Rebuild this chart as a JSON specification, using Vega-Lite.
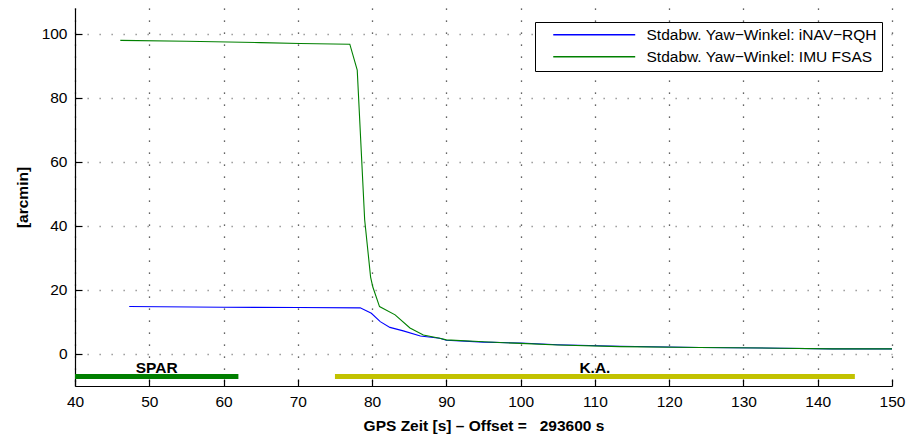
{
  "$schema": "https://vega.github.io/schema/vega-lite/v6.json",
  "width": 817,
  "height": 378,
  "autosize": {"type": "none"},
  "padding": {"left": 75, "top": 8, "right": 16, "bottom": 51},
  "background": "white",
  "config": {
    "font": "Liberation Sans",
    "view": {"stroke": null},
    "axis": {
      "domainColor": "black",
      "domainWidth": 1.2,
      "tickColor": "black",
      "tickSize": -7,
      "tickWidth": 1.2,
      "gridDash": [1.3, 10.7],
      "gridWidth": 1.3,
      "labelFont": "Liberation Sans",
      "labelFontSize": 15.5,
      "labelColor": "black",
      "titleFont": "Liberation Sans",
      "titleFontSize": 15.5,
      "titleFontWeight": "bold",
      "titleColor": "black"
    }
  },
  "datasets": {
    "lines": [
      {"series": "Stdabw. Yaw−Winkel: iNAV−RQH", "t": 47.3, "v": 14.8},
      {"series": "Stdabw. Yaw−Winkel: iNAV−RQH", "t": 60, "v": 14.6},
      {"series": "Stdabw. Yaw−Winkel: iNAV−RQH", "t": 70, "v": 14.5},
      {"series": "Stdabw. Yaw−Winkel: iNAV−RQH", "t": 78.4, "v": 14.4},
      {"series": "Stdabw. Yaw−Winkel: iNAV−RQH", "t": 79.9, "v": 12.7},
      {"series": "Stdabw. Yaw−Winkel: iNAV−RQH", "t": 81.1, "v": 10.1},
      {"series": "Stdabw. Yaw−Winkel: iNAV−RQH", "t": 82.4, "v": 8.3},
      {"series": "Stdabw. Yaw−Winkel: iNAV−RQH", "t": 84.2, "v": 7.2},
      {"series": "Stdabw. Yaw−Winkel: iNAV−RQH", "t": 86.5, "v": 5.6},
      {"series": "Stdabw. Yaw−Winkel: iNAV−RQH", "t": 89.1, "v": 4.9},
      {"series": "Stdabw. Yaw−Winkel: iNAV−RQH", "t": 90, "v": 4.3},
      {"series": "Stdabw. Yaw−Winkel: iNAV−RQH", "t": 95, "v": 3.7},
      {"series": "Stdabw. Yaw−Winkel: iNAV−RQH", "t": 100, "v": 3.4},
      {"series": "Stdabw. Yaw−Winkel: iNAV−RQH", "t": 105, "v": 2.9},
      {"series": "Stdabw. Yaw−Winkel: iNAV−RQH", "t": 113.4, "v": 2.4},
      {"series": "Stdabw. Yaw−Winkel: iNAV−RQH", "t": 124.1, "v": 2.0},
      {"series": "Stdabw. Yaw−Winkel: iNAV−RQH", "t": 135, "v": 1.8},
      {"series": "Stdabw. Yaw−Winkel: iNAV−RQH", "t": 142, "v": 1.6},
      {"series": "Stdabw. Yaw−Winkel: iNAV−RQH", "t": 150, "v": 1.6},
      {"series": "Stdabw. Yaw−Winkel: IMU FSAS", "t": 46.1, "v": 97.9},
      {"series": "Stdabw. Yaw−Winkel: IMU FSAS", "t": 55, "v": 97.6},
      {"series": "Stdabw. Yaw−Winkel: IMU FSAS", "t": 65, "v": 97.2},
      {"series": "Stdabw. Yaw−Winkel: IMU FSAS", "t": 70.3, "v": 96.9},
      {"series": "Stdabw. Yaw−Winkel: IMU FSAS", "t": 77.0, "v": 96.7},
      {"series": "Stdabw. Yaw−Winkel: IMU FSAS", "t": 78.0, "v": 88.6},
      {"series": "Stdabw. Yaw−Winkel: IMU FSAS", "t": 79.0, "v": 41.9},
      {"series": "Stdabw. Yaw−Winkel: IMU FSAS", "t": 79.8, "v": 24},
      {"series": "Stdabw. Yaw−Winkel: IMU FSAS", "t": 80.1, "v": 20.9},
      {"series": "Stdabw. Yaw−Winkel: IMU FSAS", "t": 81.0, "v": 14.8},
      {"series": "Stdabw. Yaw−Winkel: IMU FSAS", "t": 83.1, "v": 12.2},
      {"series": "Stdabw. Yaw−Winkel: IMU FSAS", "t": 85.1, "v": 8.1},
      {"series": "Stdabw. Yaw−Winkel: IMU FSAS", "t": 86.9, "v": 5.9},
      {"series": "Stdabw. Yaw−Winkel: IMU FSAS", "t": 89.1, "v": 4.9},
      {"series": "Stdabw. Yaw−Winkel: IMU FSAS", "t": 90, "v": 4.4},
      {"series": "Stdabw. Yaw−Winkel: IMU FSAS", "t": 95, "v": 3.8},
      {"series": "Stdabw. Yaw−Winkel: IMU FSAS", "t": 100, "v": 3.3},
      {"series": "Stdabw. Yaw−Winkel: IMU FSAS", "t": 105, "v": 2.8},
      {"series": "Stdabw. Yaw−Winkel: IMU FSAS", "t": 113.4, "v": 2.3},
      {"series": "Stdabw. Yaw−Winkel: IMU FSAS", "t": 124.1, "v": 2.0},
      {"series": "Stdabw. Yaw−Winkel: IMU FSAS", "t": 135, "v": 1.8},
      {"series": "Stdabw. Yaw−Winkel: IMU FSAS", "t": 142, "v": 1.6},
      {"series": "Stdabw. Yaw−Winkel: IMU FSAS", "t": 150, "v": 1.6}
    ],
    "phases": [
      {"phase": "SPAR", "start": 40, "end": 62, "mid": 51, "level": -7},
      {"phase": "K.A.", "start": 75, "end": 145, "mid": 110, "level": -7}
    ]
  },
  "layer": [
    {
      "data": {"name": "lines"},
      "mark": {"type": "line", "strokeWidth": 1.1, "clip": true},
      "encoding": {
        "x": {
          "field": "t", "type": "quantitative",
          "scale": {"domain": [40, 150], "nice": false, "zero": false},
          "axis": {
            "values": [40, 50, 60, 70, 80, 90, 100, 110, 120, 130, 140, 150],
            "title": "GPS Zeit [s] – Offset =\u00a0\u00a0\u00a0293600 s",
            "labelPadding": 15,
            "titleY": 39,
            "titleBaseline": "middle",
            "labelFlush": false,
            "gridColor": "#333"
          }
        },
        "y": {
          "field": "v", "type": "quantitative",
          "scale": {"domain": [-10, 108], "nice": false, "zero": false},
          "axis": {
            "values": [0, 20, 40, 60, 80, 100],
            "title": "[arcmin]",
            "labelPadding": 15,
            "titleX": -53,
            "titleBaseline": "middle",
            "titleAlign": "center",
            "titleAngle": -90,
            "gridColor": "#8a8a8a"
          }
        },
        "color": {
          "field": "series", "type": "nominal",
          "scale": {
            "domain": ["Stdabw. Yaw−Winkel: iNAV−RQH", "Stdabw. Yaw−Winkel: IMU FSAS"],
            "range": ["#0000ff", "#008000"]
          },
          "legend": {
            "title": null,
            "orient": "none",
            "legendX": 460,
            "legendY": 14,
            "symbolType": "M1,0H15.9",
            "symbolSize": 121,
            "symbolStrokeWidth": 1.3,
            "labelFontSize": 15.5,
            "labelFont": "Liberation Sans",
            "labelColor": "black",
            "labelLimit": 400,
            "labelOffset": 91,
            "rowPadding": 5,
            "padding": 5,
            "strokeColor": "black",
            "fillColor": "white",
            "cornerRadius": 0
          }
        }
      }
    },
    {
      "data": {"name": "phases"},
      "mark": {"type": "rule", "strokeWidth": 5},
      "encoding": {
        "x": {"field": "start", "type": "quantitative"},
        "x2": {"field": "end"},
        "y": {"field": "level", "type": "quantitative"},
        "color": {
          "field": "phase", "type": "nominal",
          "scale": {"domain": ["SPAR", "K.A."], "range": ["#007f00", "#c2c200"]},
          "legend": null
        }
      }
    },
    {
      "data": {"name": "phases"},
      "mark": {"type": "text", "fontWeight": "bold", "fontSize": 15.5, "font": "Liberation Sans", "baseline": "alphabetic", "dy": -3, "color": "black"},
      "encoding": {
        "x": {"field": "mid", "type": "quantitative"},
        "y": {"field": "level", "type": "quantitative"},
        "text": {"field": "phase"}
      }
    }
  ],
  "resolve": {"scale": {"color": "independent"}}
}
